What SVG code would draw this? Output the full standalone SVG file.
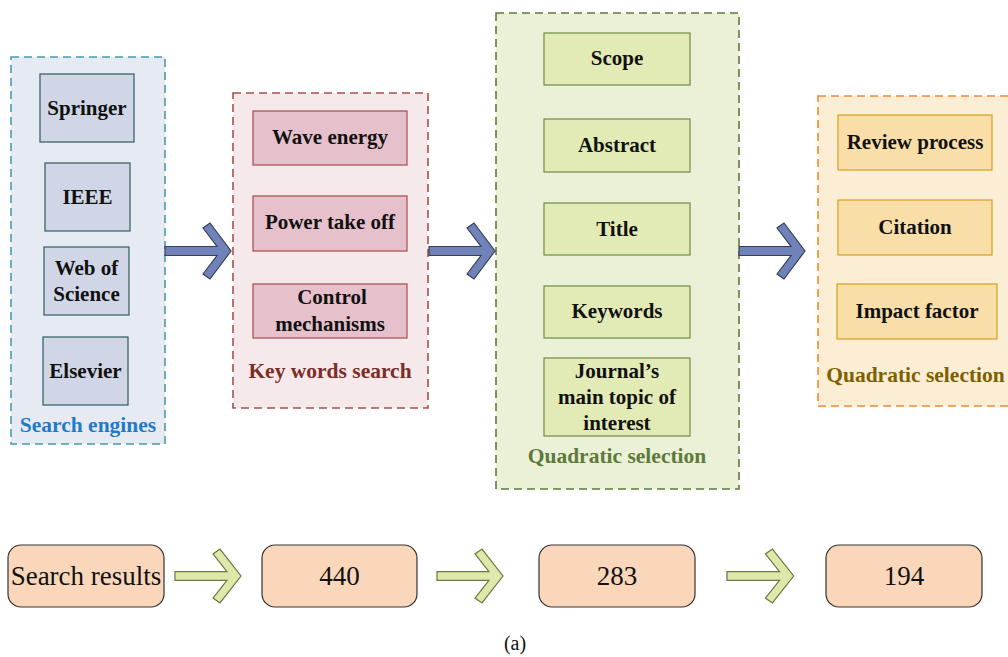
<svg xmlns="http://www.w3.org/2000/svg" width="1008" height="657" viewBox="0 0 1008 657">
  <style>
    .t { font-family: "Liberation Serif", "Times New Roman", serif; font-weight: bold; font-size: 21px; fill: #111; text-anchor: middle; }
    .lbl { font-family: "Liberation Serif", "Times New Roman", serif; font-weight: bold; font-size: 21.5px; text-anchor: middle; }
    .num { font-family: "Liberation Serif", "Times New Roman", serif; font-size: 27px; fill: #111; text-anchor: middle; }
    .grp { stroke-width: 1.6; stroke-dasharray: 8 5; }
    .blue-box { fill: #D0D6E6; stroke: #2F5A60; stroke-width: 1.2; }
    .red-box { fill: #E6C0CB; stroke: #A84B4B; stroke-width: 1.2; }
    .green-box { fill: #E2EBB5; stroke: #6E8A4A; stroke-width: 1.2; }
    .orange-box { fill: #F9DEA8; stroke: #D4A020; stroke-width: 1.2; }
    .res-box { fill: #FAD7BA; stroke: #333; stroke-width: 1.2; }
    .arrow-blue { fill: #6F82B9; stroke: #3A3F55; stroke-width: 1.2; }
    .arrow-green { fill: #DDE8AA; stroke: #6A7A40; stroke-width: 1.2; }
  </style>
  <defs>
    <path id="chevron" d="M0,-4.5 H52 L38,-23 L45,-28 L66,0 L45,28 L38,23 L52,4.5 H0 Z"/>
  </defs>

  <rect width="1008" height="657" fill="#fff"/>

  <!-- Search engines -->
  <g id="search-engines">
    <rect class="grp" x="11" y="57" width="154" height="387" fill="#E6EAF2" stroke="#4A9BAA"/>
    <text class="lbl" x="88" y="432" fill="#1F7ACC">Search engines</text>
  </g>
  <g id="springer">
    <rect class="blue-box" x="40" y="74" width="94" height="68"/>
    <text class="t" x="87" y="115">Springer</text>
  </g>
  <g id="ieee">
    <rect class="blue-box" x="45" y="163" width="85" height="68"/>
    <text class="t" x="87.5" y="204">IEEE</text>
  </g>
  <g id="web-of-science">
    <rect class="blue-box" x="44" y="247" width="85" height="68"/>
    <text class="t" x="86.5" y="275">Web of</text>
    <text class="t" x="86.5" y="301">Science</text>
  </g>
  <g id="elsevier">
    <rect class="blue-box" x="43" y="337" width="85" height="68"/>
    <text class="t" x="85.5" y="378">Elsevier</text>
  </g>

  <!-- Key words search -->
  <g id="key-words-search">
    <rect class="grp" x="233" y="93" width="195" height="315" fill="#F5E9EC" stroke="#A8504C"/>
    <text class="lbl" x="330" y="378" fill="#7B2D26">Key words search</text>
  </g>
  <g id="wave-energy">
    <rect class="red-box" x="253" y="111" width="154" height="54"/>
    <text class="t" x="330" y="144">Wave energy</text>
  </g>
  <g id="power-take-off">
    <rect class="red-box" x="253" y="196" width="154" height="55"/>
    <text class="t" x="330" y="229">Power take off</text>
  </g>
  <g id="control-mechanisms">
    <rect class="red-box" x="253" y="284" width="154" height="54"/>
    <text class="t" x="332" y="304">Control</text>
    <text class="t" x="330" y="331">mechanisms</text>
  </g>

  <!-- Quadratic selection (journal content) -->
  <g id="quadratic-selection-1">
    <rect class="grp" x="496" y="13" width="243" height="476" fill="#EBF1D6" stroke="#5E7A3A"/>
    <text class="lbl" x="617" y="463" fill="#5E7A3A">Quadratic selection</text>
  </g>
  <g id="scope">
    <rect class="green-box" x="544" y="33" width="146" height="52"/>
    <text class="t" x="617" y="65">Scope</text>
  </g>
  <g id="abstract">
    <rect class="green-box" x="544" y="119" width="146" height="53"/>
    <text class="t" x="617" y="152">Abstract</text>
  </g>
  <g id="title">
    <rect class="green-box" x="544" y="203" width="146" height="52"/>
    <text class="t" x="617" y="236">Title</text>
  </g>
  <g id="keywords">
    <rect class="green-box" x="544" y="286" width="146" height="52"/>
    <text class="t" x="617" y="318">Keywords</text>
  </g>
  <g id="journal-topic">
    <rect class="green-box" x="544" y="358" width="146" height="78"/>
    <text class="t" x="617" y="378">Journal’s</text>
    <text class="t" x="617" y="404">main topic of</text>
    <text class="t" x="617" y="430">interest</text>
  </g>

  <!-- Quadratic selection (journal quality) -->
  <g id="quadratic-selection-2">
    <rect class="grp" x="818" y="96" width="200" height="310" fill="#FBEED5" stroke="#F08A30"/>
    <text class="lbl" x="915.5" y="382" fill="#7F6000">Quadratic selection</text>
  </g>
  <g id="review-process">
    <rect class="orange-box" x="838" y="115" width="154" height="55"/>
    <text class="t" x="915" y="149">Review process</text>
  </g>
  <g id="citation">
    <rect class="orange-box" x="838" y="200" width="154" height="55"/>
    <text class="t" x="915" y="234">Citation</text>
  </g>
  <g id="impact-factor">
    <rect class="orange-box" x="837" y="284" width="160" height="55"/>
    <text class="t" x="917" y="318">Impact factor</text>
  </g>

  <!-- Result counts -->
  <g id="search-results">
    <rect class="res-box" x="8" y="545" width="156" height="62" rx="13"/>
    <text class="num" x="86" y="585">Search results</text>
  </g>
  <g id="count-440">
    <rect class="res-box" x="262" y="545" width="155" height="62" rx="13"/>
    <text class="num" x="339.5" y="585">440</text>
  </g>
  <g id="count-283">
    <rect class="res-box" x="539" y="545" width="156" height="62" rx="13"/>
    <text class="num" x="617" y="585">283</text>
  </g>
  <g id="count-194">
    <rect class="res-box" x="826" y="545" width="156" height="62" rx="13"/>
    <text class="num" x="904" y="585">194</text>
  </g>

  <!-- Connectors -->
  <g id="connectors">
    <use href="#chevron" class="arrow-blue" transform="translate(165,251)"/>
    <use href="#chevron" class="arrow-blue" transform="translate(429,251)"/>
    <use href="#chevron" class="arrow-blue" transform="translate(739,251)"/>
    <use href="#chevron" class="arrow-green" transform="translate(175,576) scale(1,0.96)"/>
    <use href="#chevron" class="arrow-green" transform="translate(437,576) scale(1,0.96)"/>
    <use href="#chevron" class="arrow-green" transform="translate(727,576) scale(1.01,0.96)"/>
  </g>

  <text x="515" y="650" font-family="Liberation Serif, Times New Roman, serif" font-size="20" fill="#111" text-anchor="middle">(a)</text>
</svg>
